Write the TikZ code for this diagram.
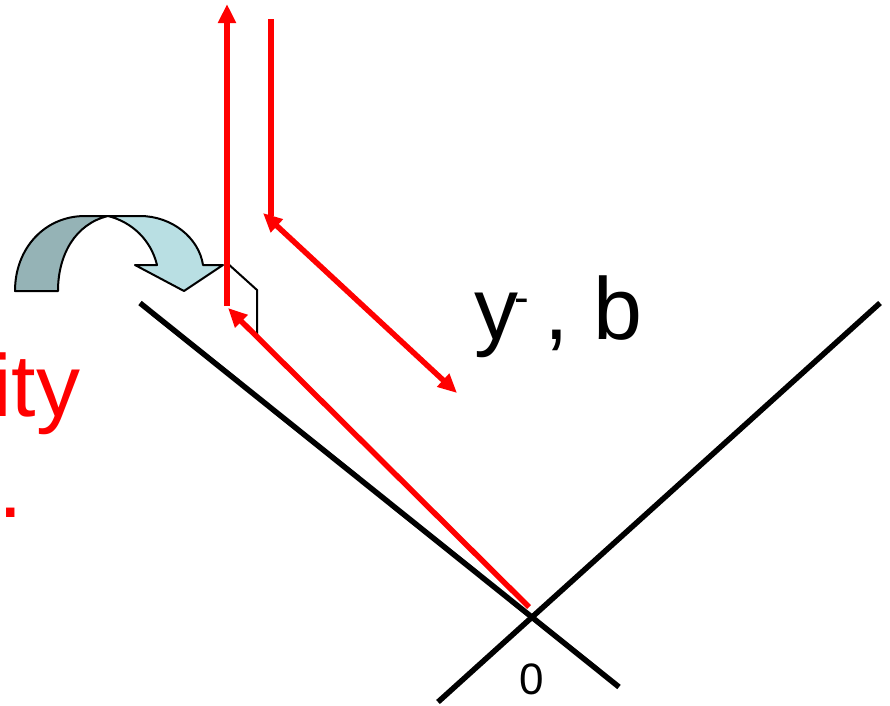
\documentclass[tikz,border=0pt]{standalone}
\usepackage{fontspec}
\setmainfont{Liberation Sans}
\usetikzlibrary{arrows.meta}
\definecolor{redline}{RGB}{255,0,0}
\definecolor{darkteal}{RGB}{149,179,182}
\definecolor{lightteal}{RGB}{185,223,227}
\tikzset{
  axisline/.style={line width=5.5pt, black},
  rayline/.style={line width=5.5pt, redline},
  rayhead/.style={-{Triangle[length=19pt,width=17pt]}},
  twohead/.style={{Triangle[length=19pt,width=17pt]}-{Triangle[length=19pt,width=17pt]}},
  bigtext/.style={inner sep=0pt, anchor=base west, font=\fontsize{88}{96}\selectfont},
  smalltext/.style={inner sep=0pt, font=\fontsize{44}{50}\selectfont},
  suptext/.style={inner sep=0pt, anchor=base west, font=\fontsize{44}{50}\selectfont},
  bendarrow/.style={draw=black, line width=2pt, line join=round},
}
\begin{document}
\begin{tikzpicture}[x=1pt,y=-1pt]
\useasboundingbox (0,0) rectangle (890,705);
% coordinates
\coordinate (m1a) at (140,303);
\coordinate (m1b) at (619,687);
\coordinate (m2a) at (438,702);
\coordinate (m2b) at (880,303);
\coordinate (o) at (529,607);
\coordinate (r1) at (228,308);
\coordinate (v1b) at (227,306);
\coordinate (v1t) at (227,4);
\coordinate (v2t) at (271,19);
\coordinate (v2b) at (271,216);
\coordinate (d2a) at (263,213);
\coordinate (d2b) at (457,393);
\coordinate (p1) at (226,262);
\coordinate (p2) at (257,290);
\coordinate (p3) at (257,337);
% curved arrow
\fill[darkteal] (15,291) .. controls (15,248) and (45,216) .. (85,216) -- (108,216) .. controls (75,224) and (58,255) .. (58,291) -- cycle;
\fill[lightteal] (108,216) -- (140,216) .. controls (172,216) and (199,238) .. (203,265) -- (223,265) -- (184,291) -- (135,265) -- (157,265) .. controls (151,240) and (132,222) .. (108,216) -- cycle;
\draw[bendarrow] (15,291) .. controls (15,248) and (45,216) .. (85,216) -- (140,216) .. controls (172,216) and (199,238) .. (203,265) -- (223,265) -- (184,291) -- (135,265) -- (157,265) .. controls (151,240) and (132,222) .. (108,216) .. controls (75,224) and (58,255) .. (58,291) -- cycle;
% mirror lines
\draw[axisline] (m1a) -- (m1b);
\draw[axisline] (m2a) -- (m2b);
% small polyline
\draw[line width=2pt] (p1) -- (p2) -- (p3);
% red rays
\draw[rayline, rayhead] (o) -- (r1);
\draw[rayline, rayhead] (v1b) -- (v1t);
\draw[rayline] (v2t) -- (v2b);
\draw[rayline, twohead] (d2b) -- (d2a);
% texts
\node[bigtext, text=redline] (ity) at (-8,416) {ity};
\node[bigtext, text=redline] (dot) at (-2,517) {.};
\node[bigtext] (yb) at (474,339) {y\hspace{0.3em}, b};
\node[suptext] (minus) at (514,312) {-};
\node[smalltext] (zero) at (532,679) {0};
\end{tikzpicture}
\end{document}
